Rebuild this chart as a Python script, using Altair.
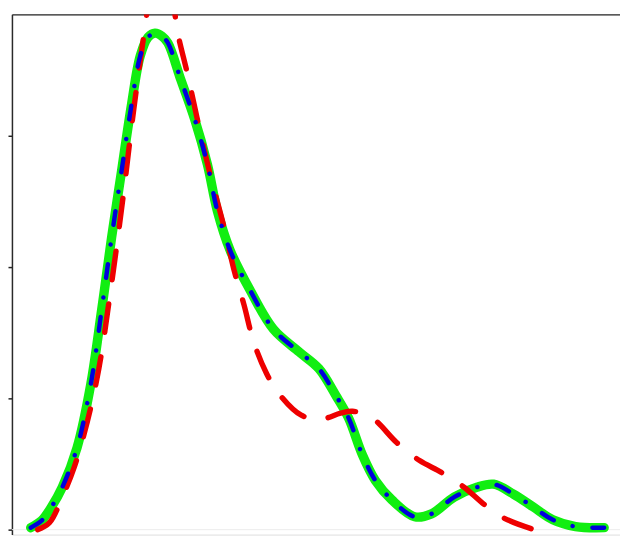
import altair as alt
import pandas as pd

# Smooth curve (drawn twice: thick green solid + blue dash-dot on top)
smooth_x = [0.185, 0.267, 0.342, 0.424, 0.536, 0.641, 0.723, 0.798, 0.873, 0.948,
            1.015, 1.075, 1.127, 1.180, 1.225, 1.322, 1.427, 1.524, 1.599, 1.696,
            1.846, 2.025, 2.220, 2.369, 2.497, 2.594, 2.698, 2.796, 2.923, 3.095,
            3.222, 3.394, 3.566, 3.693, 3.843, 3.993, 4.142, 4.315, 4.531]
smooth_y = [0.015, 0.068, 0.173, 0.323, 0.624, 1.113, 1.677, 2.226, 2.729, 3.233,
            3.609, 3.752, 3.782, 3.759, 3.707, 3.429, 3.128, 2.782, 2.429, 2.128,
            1.827, 1.526, 1.353, 1.226, 1.023, 0.850, 0.571, 0.376, 0.226, 0.098,
            0.120, 0.248, 0.323, 0.346, 0.271, 0.173, 0.075, 0.023, 0.015]

# Red dashed curve
red_x = [0.237, 0.327, 0.424, 0.514, 0.611, 0.701, 0.791, 0.881, 0.963, 1.045,
         1.090, 1.172, 1.247, 1.299, 1.374, 1.449, 1.539, 1.651, 1.726, 1.801,
         1.875, 1.973, 2.070, 2.235, 2.384, 2.534, 2.624, 2.773, 2.960, 3.132,
         3.297, 3.469, 3.618, 3.768, 3.977]
red_y = [0.0, 0.053, 0.248, 0.474, 0.812, 1.226, 1.827, 2.504, 3.180, 3.782,
         4.045, 4.195, 4.083, 3.782, 3.466, 3.120, 2.729, 2.301, 1.977, 1.714,
         1.429, 1.188, 1.030, 0.872, 0.842, 0.887, 0.902, 0.850, 0.662, 0.526,
         0.436, 0.323, 0.195, 0.090, 0.008]

y_ticks = [0, 1, 2, 3]

smooth = pd.DataFrame({"x": smooth_x, "y": smooth_y})
red = pd.DataFrame({"x": red_x, "y": red_y})

x_scale = alt.Scale(domain=[0.0426, 4.651], nice=False, zero=False)
y_scale = alt.Scale(domain=[-0.0376, 3.925], nice=False, zero=False)

x_enc = alt.X("x:Q", scale=x_scale,
              axis=alt.Axis(orient="top", labels=False, ticks=False, grid=False,
                            title=None, domainColor="#2a2a2a", domainWidth=1.5))
y_enc = alt.Y("y:Q", scale=y_scale,
              axis=alt.Axis(values=y_ticks, labels=False, ticks=True, tickSize=4,
                            tickColor="#222222", tickWidth=1.5, grid=False, title=None,
                            domainColor="#2a2a2a", domainWidth=1.5))

zero_line = alt.Chart(pd.DataFrame({"y": [0]})).mark_rule(
    color="#ececec", strokeWidth=1
).encode(y=alt.Y("y:Q", scale=y_scale))

green = alt.Chart(smooth).mark_line(
    color="#11ee11", strokeWidth=9.5, interpolate="catmull-rom", strokeCap="round", clip=True
).encode(x=x_enc, y=y_enc, order="x:Q")

red_line = alt.Chart(red).mark_line(
    color="#ee0000", strokeWidth=5.5, interpolate="catmull-rom", strokeCap="round",
    strokeDash=[29, 25], clip=True
).encode(x=x_enc, y=y_enc, order="x:Q")

blue = alt.Chart(smooth).mark_line(
    color="#0000dd", strokeWidth=4.5, interpolate="catmull-rom", strokeCap="round",
    strokeDash=[14, 20, 0.1, 20], clip=True
).encode(x=x_enc, y=y_enc, order="x:Q")

chart = alt.layer(zero_line, green, red_line, blue).properties(
    width=616, height=527,
    autosize=alt.AutoSizeParams(type="none"),
    padding={"left": 4, "top": 3, "right": 0, "bottom": 0},
).configure_view(strokeWidth=0).configure(background="white")

chart.save("out.html", embed_options={"renderer": "svg", "actions": False})
